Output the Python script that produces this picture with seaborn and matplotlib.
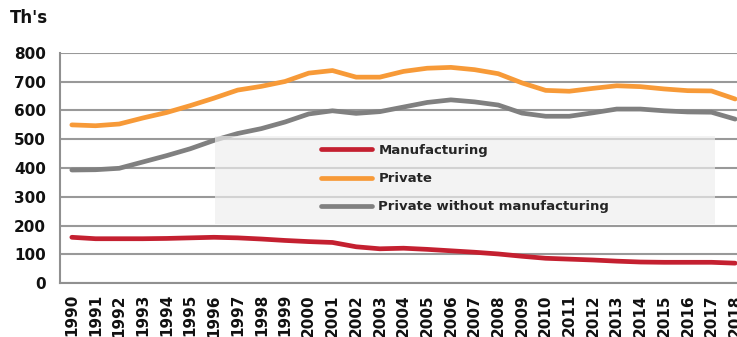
import numpy as np
import pandas as pd
import matplotlib
matplotlib.use("Agg")
import matplotlib.pyplot as plt
from matplotlib.patches import Rectangle
import seaborn as sns

years = [str(y) for y in range(1990, 2019)]
manufacturing = [159, 154, 154, 154, 155, 157, 159, 157, 153, 148, 144, 141, 126, 119,
                 121, 117, 112, 107, 101, 93, 86, 83, 80, 76, 73, 72, 72, 72, 69]
private = [550, 547, 553, 574, 593, 617, 643, 671, 684, 701, 730, 739, 716, 716,
           736, 747, 750, 742, 728, 696, 670, 667, 677, 686, 683, 675, 669, 668, 640]
private_wo_manuf = [393, 394, 399, 421, 443, 467, 496, 520, 537, 560, 588, 599, 590, 596,
                    612, 628, 637, 630, 619, 591, 580, 580, 592, 605, 605, 599, 595, 594, 570]
series_names = ["Manufacturing", "Private", "Private without manufacturing"]
y_ticks = [0, 100, 200, 300, 400, 500, 600, 700, 800]

colors = {"Manufacturing": "#c42030", "Private": "#f79a38",
          "Private without manufacturing": "#808080"}

df = pd.DataFrame({
    "idx": list(range(len(years))) * 3,
    "value": manufacturing + private + private_wo_manuf,
    "series": sum([[n] * len(years) for n in series_names], []),
})

sns.set_theme(style="white")
plt.rcParams["font.family"] = ["DejaVu Sans"]

W, H = 737, 337
fig = plt.figure(figsize=(W / 100, H / 100), dpi=100)
ax = fig.add_axes([60 / W, 1 - 283 / H, 687 / W, 230 / H])

sns.lineplot(data=df, x="idx", y="value", hue="series", hue_order=series_names,
             palette=colors, linewidth=3.4, ax=ax, zorder=2, legend=True)
handles, labels = ax.get_legend_handles_labels()
ax.get_legend().remove()

ax.set_xlim(-0.5, len(years) - 0.5)
ax.set_ylim(0, 800)
ax.set_yticks(y_ticks)
ax.set_yticklabels([str(v) for v in y_ticks], fontsize=11, fontweight="bold", color="#111111")
ax.set_xticks(range(len(years)))
ax.set_xticklabels(years, rotation=90, fontsize=11, fontweight="bold", color="#111111")
ax.set_xticks(np.arange(-0.5, len(years), 1.0), minor=True)
ax.tick_params(axis="x", which="major", length=0, pad=8)
ax.tick_params(axis="x", which="minor", length=6, width=1.5, color="#909090", direction="out")
ax.tick_params(axis="y", length=6, width=1.5, color="#909090", direction="out", pad=4)
ax.set_xlabel("")
ax.set_ylabel("")

ax.grid(axis="y", color="#999999", linewidth=1.5, zorder=0)
ax.set_axisbelow(True)
for s in ["top", "right"]:
    ax.spines[s].set_visible(False)
for s in ["left", "bottom"]:
    ax.spines[s].set_color("#909090")
    ax.spines[s].set_linewidth(1.5)

# translucent legend panel
panel = Rectangle((215 / W, 1 - 224 / H), 500 / W, 88 / H, transform=fig.transFigure,
                  facecolor="#eeeeee", alpha=0.68, edgecolor="none", zorder=3, clip_on=False)
ax.add_patch(panel)

for h in handles:
    h.set_linewidth(3.4)
    h.set_solid_capstyle("round")
leg = ax.legend(handles, labels, loc="upper left", frameon=False,
                bbox_to_anchor=(321 / W, 1 - 144 / H), bbox_transform=fig.transFigure,
                borderaxespad=0, borderpad=0, handlelength=3.9, handletextpad=0.45,
                labelspacing=1.15, prop={"size": 9.5, "weight": "bold"})
leg.set_zorder(5)

fig.text(10 / W, 1 - 18 / H, "Th's", fontsize=12, fontweight="bold", color="#111111",
         va="center", ha="left")

fig.savefig("out.png", dpi=100)
